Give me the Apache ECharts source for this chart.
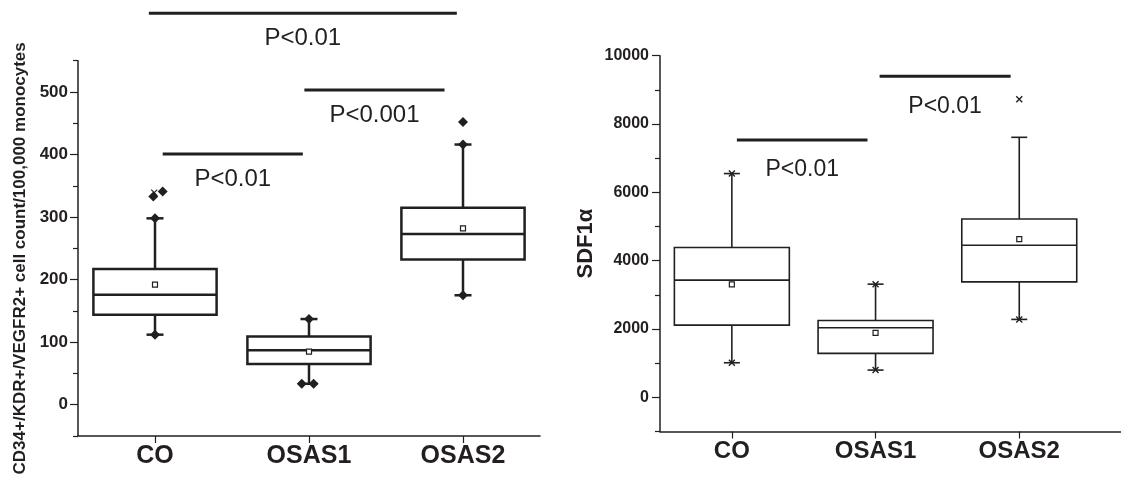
<!DOCTYPE html>
<html>
<head>
<meta charset="utf-8">
<script src="https://cdn.jsdelivr.net/npm/echarts@6/dist/echarts.min.js"></script>
<style>
  html, body { margin: 0; padding: 0; background: #fff; }
  #chart { width: 1121px; height: 477px; }
</style>
</head>
<body>
<div id="chart"></div>
<script>
// groups
const categories = ["CO", "OSAS1", "OSAS2"];

// left panel: CD34+/KDR+/VEGFR2+ count
const epcLow = [112, 33.5, 175];
const epcQ1 = [144, 65, 232];
const epcMedian = [176, 87, 273];
const epcQ3 = [217, 109, 315];
const epcHigh = [298, 137, 416];
const epcMean = [192, 85, 282];
// diamonds (whisker ends + outliers), x in group units
const epcDiamondX = [0, 0, 1, 2, 2, 2, -0.011, 0.05, 0.953, 1.03];
const epcDiamondY = [298, 112, 137, 416, 175, 452, 333, 341, 33.5, 33.5];
const epcCrossX = [-0.005];
const epcCrossY = [339];
const epcTicks = [0, 100, 200, 300, 400, 500];
const epcMinorTicks = [-50, 50, 150, 250, 350, 450, 550];
// significance bars
const epcSigFrom = [-0.04, 0.97, 0.05];
const epcSigTo = [1.96, 1.88, 0.96];
const epcSigY = [626, 503, 401];
const epcSigText = ["P<0.01", "P<0.001", "P<0.01"];

// right panel: SDF1α
const sdfLow = [1012, 798, 2281];
const sdfQ1 = [2114, 1287, 3380];
const sdfMedian = [3430, 2035, 4453];
const sdfQ3 = [4386, 2251, 5222];
const sdfHigh = [6550, 3313, 7611];
const sdfMean = [3304, 1889, 4629];
const sdfCrossX = [0, 0, 1, 1, 2, 2];
const sdfCrossY = [6550, 1012, 3313, 798, 2281, 8722];
const sdfTicks = [0, 2000, 4000, 6000, 8000, 10000];
const sdfMinorTicks = [-1000, 1000, 3000, 5000, 7000, 9000];
const sdfSigFrom = [0.035, 1.028];
const sdfSigTo = [0.944, 1.94];
const sdfSigY = [7530, 9400];
const sdfSigText = ["P<0.01", "P<0.01"];

const FONT = "'Liberation Sans', Arial, sans-serif";
const INK = "#231f20";
const groupIdx = [0, 1, 2];

var chartDom = document.getElementById("chart");
var myChart = echarts.init(chartDom);

function boxRender(lineW, capW) {
  return function (params, api) {
    var x = api.value(0);
    var pLow = api.coord([x, api.value(1)]);
    var pQ1 = api.coord([x, api.value(2)]);
    var pMed = api.coord([x, api.value(3)]);
    var pQ3 = api.coord([x, api.value(4)]);
    var pHigh = api.coord([x, api.value(5)]);
    var bw = api.size([1, 0])[0] * 0.8;
    var cx = pMed[0];
    var st = { stroke: INK, lineWidth: lineW, fill: null };
    return {
      type: "group",
      children: [
        { type: "line", shape: { x1: cx, y1: pQ3[1], x2: cx, y2: pHigh[1] }, style: st },
        { type: "line", shape: { x1: cx, y1: pQ1[1], x2: cx, y2: pLow[1] }, style: st },
        { type: "line", shape: { x1: cx - capW / 2, y1: pHigh[1], x2: cx + capW / 2, y2: pHigh[1] }, style: st },
        { type: "line", shape: { x1: cx - capW / 2, y1: pLow[1], x2: cx + capW / 2, y2: pLow[1] }, style: st },
        { type: "rect", shape: { x: cx - bw / 2, y: pQ3[1], width: bw, height: pQ1[1] - pQ3[1] }, style: { stroke: INK, lineWidth: lineW, fill: null } },
        { type: "line", shape: { x1: cx - bw / 2, y1: pMed[1], x2: cx + bw / 2, y2: pMed[1] }, style: st }
      ]
    };
  };
}

function sigRender(fontSize, textGap) {
  return function (params, api) {
    var a = api.coord([api.value(0), api.value(2)]);
    var b = api.coord([api.value(1), api.value(2)]);
    return {
      type: "group",
      children: [
        { type: "line", shape: { x1: a[0], y1: a[1], x2: b[0], y2: b[1] }, style: { stroke: INK, lineWidth: 3 } },
        {
          type: "text",
          x: (a[0] + b[0]) / 2,
          y: a[1] + textGap,
          style: {
            text: api.value(3),
            fontFamily: FONT,
            fontSize: fontSize,
            fill: INK,
            align: "center",
            verticalAlign: "middle"
          }
        }
      ]
    };
  };
}

function xAxisCfg(gridIndex, max, fs) {
  return {
    type: "value",
    gridIndex: gridIndex,
    min: -0.5,
    max: max,
    splitLine: { show: false },
    axisLine: { show: true, onZero: false, lineStyle: { color: INK, width: 1.5 } },
    axisTick: { show: true, customValues: groupIdx, length: 7, lineStyle: { color: INK, width: 1.2 } },
    axisLabel: {
      customValues: groupIdx,
      formatter: function (v) { return categories[v]; },
      fontFamily: FONT,
      fontWeight: "bold",
      fontSize: fs,
      color: INK,
      margin: 8
    }
  };
}

function yAxisCfg(gridIndex, min, max, ticks, fs, margin, name, nameSize, nameGap, namePad) {
  return {
    type: "value",
    gridIndex: gridIndex,
    min: min,
    max: max,
    splitLine: { show: false },
    axisLine: { show: true, onZero: false, lineStyle: { color: INK, width: 1.5 } },
    axisTick: { show: true, customValues: ticks, length: 8, lineStyle: { color: INK, width: 1.2 } },
    axisLabel: {
      customValues: ticks,
      formatter: function (v) { return String(v); },
      fontFamily: FONT, fontWeight: "bold", fontSize: fs, color: INK, margin: margin
    },
    name: name,
    nameLocation: "middle",
    nameGap: nameGap,
    nameTextStyle: { fontFamily: FONT, fontWeight: "bold", fontSize: nameSize, color: INK, padding: namePad }
  };
}

function minorAxisCfg(gridIndex, min, max, ticks) {
  return {
    type: "value",
    gridIndex: gridIndex,
    min: min,
    max: max,
    position: "left",
    splitLine: { show: false },
    axisLine: { show: false, onZero: false },
    axisLabel: { show: false },
    axisTick: { show: true, customValues: ticks, length: 5, lineStyle: { color: INK, width: 1.2 } }
  };
}

var crossSymbol = "path://M0,0L10,10M10,0L0,10";

var option = {
  animation: false,
  backgroundColor: "#fff",
  grid: [
    { left: 78, top: 60.7, width: 462, height: 375.3 },
    { left: 660, top: 55.7, width: 461, height: 375.8 }
  ],
  xAxis: [xAxisCfg(0, 2.5, 25), xAxisCfg(1, 2.708, 24)],
  yAxis: [
    yAxisCfg(0, -50, 550, epcTicks, 17, 10, "CD34+/KDR+/VEGFR2+ cell count/100,000 monocytes", 17, 49, [0, 20, 0, 0]),
    minorAxisCfg(0, -50, 550, epcMinorTicks),
    yAxisCfg(1, -1000, 10000, sdfTicks, 16, 11, "SDF1α", 22, 63, 0),
    minorAxisCfg(1, -1000, 10000, sdfMinorTicks)
  ],
  series: [
    {
      type: "custom",
      xAxisIndex: 0,
      yAxisIndex: 0,
      renderItem: boxRender(2.5, 17),
      data: groupIdx.map(function (i) { return [i, epcLow[i], epcQ1[i], epcMedian[i], epcQ3[i], epcHigh[i]]; }),
      z: 2
    },
    {
      type: "scatter",
      xAxisIndex: 0,
      yAxisIndex: 0,
      symbol: "diamond",
      symbolSize: 10,
      itemStyle: { color: INK, opacity: 1 },
      data: epcDiamondX.map(function (x, i) { return [x, epcDiamondY[i]]; }),
      z: 3
    },
    {
      type: "scatter",
      xAxisIndex: 0,
      yAxisIndex: 0,
      symbol: crossSymbol,
      symbolSize: 6,
      itemStyle: { color: "none", borderColor: INK, borderWidth: 1.2, opacity: 1 },
      data: epcCrossX.map(function (x, i) { return [x, epcCrossY[i]]; }),
      z: 4
    },
    {
      type: "scatter",
      xAxisIndex: 0,
      yAxisIndex: 0,
      symbol: "rect",
      symbolSize: 5,
      itemStyle: { color: "#fff", borderColor: INK, borderWidth: 1.2, opacity: 1 },
      data: groupIdx.map(function (i) { return [i, epcMean[i]]; }),
      z: 4
    },
    {
      type: "custom",
      xAxisIndex: 0,
      yAxisIndex: 0,
      clip: false,
      renderItem: sigRender(24, 25),
      data: epcSigFrom.map(function (f, i) { return [f, epcSigTo[i], epcSigY[i], epcSigText[i]]; }),
      z: 5
    },
    {
      type: "custom",
      xAxisIndex: 1,
      yAxisIndex: 2,
      renderItem: boxRender(1.6, 16),
      data: groupIdx.map(function (i) { return [i, sdfLow[i], sdfQ1[i], sdfMedian[i], sdfQ3[i], sdfHigh[i]]; }),
      z: 2
    },
    {
      type: "scatter",
      xAxisIndex: 1,
      yAxisIndex: 2,
      symbol: crossSymbol,
      symbolSize: 6,
      itemStyle: { color: "none", borderColor: INK, borderWidth: 1.4, opacity: 1 },
      data: sdfCrossX.map(function (x, i) { return [x, sdfCrossY[i]]; }),
      z: 3
    },
    {
      type: "scatter",
      xAxisIndex: 1,
      yAxisIndex: 2,
      symbol: "rect",
      symbolSize: 5,
      itemStyle: { color: "#fff", borderColor: INK, borderWidth: 1.2, opacity: 1 },
      data: groupIdx.map(function (i) { return [i, sdfMean[i]]; }),
      z: 4
    },
    {
      type: "custom",
      xAxisIndex: 1,
      yAxisIndex: 2,
      clip: false,
      renderItem: sigRender(23, 30),
      data: sdfSigFrom.map(function (f, i) { return [f, sdfSigTo[i], sdfSigY[i], sdfSigText[i]]; }),
      z: 5
    }
  ]
};

option && myChart.setOption(option, true);
</script>
</body>
</html>
